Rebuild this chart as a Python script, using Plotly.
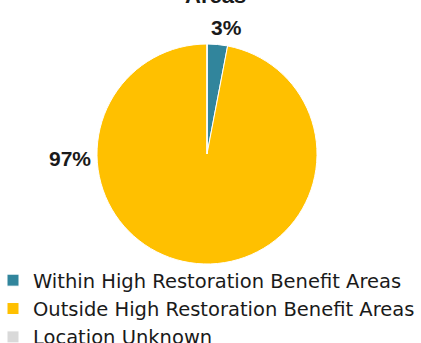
import plotly.graph_objects as go

categories = ["Within High Restoration Benefit Areas",
              "Outside High Restoration Benefit Areas",
              "Location Unknown"]
values = [3, 97, 0]
colors = ["#31859C", "#FFC000", "#D9D9D9"]
label_text = ["3%", "97%"]
title_text = "Areas"

W, H = 421, 343

def px(x, y):
    return x / W, 1 - y / H

CX, CY, R = 207, 154, 110

fig = go.Figure()
fig.add_trace(go.Pie(
    labels=categories, values=values, sort=False, direction="clockwise",
    rotation=0, textinfo="none", hoverinfo="label+percent",
    marker=dict(colors=colors, line=dict(color="white", width=1)),
    domain=dict(x=[(CX - R) / W, (CX + R) / W],
                y=[1 - (CY + R) / H, 1 - (CY - R) / H]),
))

lab_font = dict(size=21, color="#1a1a1a", family="Liberation Sans, Arial")
annos = []
for txt, (x, y) in zip(label_text, [(226, 28), (70, 158)]):
    ax, ay = px(x, y)
    annos.append(dict(text="<b>%s</b>" % txt, x=ax, y=ay, xref="paper", yref="paper",
                      xanchor="center", yanchor="middle",
                      showarrow=False, font=lab_font))
tx, ty = px(215, 9.5)
annos.append(dict(text="<b>%s</b>" % title_text, x=tx, y=ty, xref="paper", yref="paper",
                  xanchor="center", yanchor="bottom", showarrow=False,
                  font=dict(size=22, color="#1a1a1a", family="Liberation Sans, Arial")))

lx, ly = px(-7, 261)
fig.update_layout(
    width=W, height=H, margin=dict(l=0, r=0, t=0, b=0, autoexpand=False),
    paper_bgcolor="white", plot_bgcolor="white",
    annotations=annos,
    showlegend=True,
    legend=dict(x=lx, y=ly, xref="paper", yref="paper",
                xanchor="left", yanchor="top",
                font=dict(size=19.5, color="#1a1a1a", family="DejaVu Sans"),
                tracegroupgap=0, itemwidth=30, bgcolor="rgba(0,0,0,0)"),
)
fig.write_html("out.html", config={"displayModeBar": False},
               post_script="document.body.style.margin='0';")
